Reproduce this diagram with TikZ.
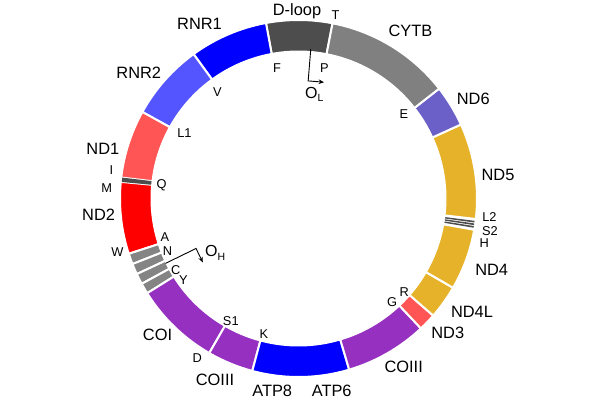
\documentclass[tikz,border=0pt]{standalone}
\usepackage{fontspec}
\setmainfont{Liberation Sans}
\usetikzlibrary{calc,arrows.meta}
\definecolor{dkgray}{RGB}{77,77,77}
\definecolor{midgray}{RGB}{128,128,128}
\definecolor{bandgray}{RGB}{132,132,132}
\definecolor{ndsix}{RGB}{106,96,200}
\definecolor{ndgold}{RGB}{230,178,42}
\definecolor{ndlight}{RGB}{255,85,85}
\definecolor{ndred}{RGB}{255,0,0}
\definecolor{copurple}{RGB}{150,48,192}
\definecolor{atpblue}{RGB}{0,0,255}
\definecolor{rnrlight}{RGB}{85,85,255}
\newcommand{\ringseg}[3]{\fill[#1,draw=white,line width=2pt] (#2:178.5) arc[start angle=#2,end angle=#3,radius=178.5] -- (#3:147) arc[start angle=#3,end angle=#2,radius=147] -- cycle;}
\newcommand{\ringband}[3]{\fill[#1] (#2:177.5) arc[start angle=#2,end angle=#3,radius=177.5] -- (#3:148) arc[start angle=#3,end angle=#2,radius=148] -- cycle;}
\begin{document}
\begin{tikzpicture}[x=1pt,y=1pt,
  lbl/.style={font=\fontsize{16.4}{18}\selectfont, anchor=base, inner sep=0pt},
  sml/.style={font=\fontsize{12.8}{14}\selectfont, anchor=base, inner sep=0pt},
  arr/.style={line width=0.9pt, -{Stealth[length=5.5pt,width=4.5pt]}}]
\useasboundingbox (-298.5,-201.5) rectangle (301.5,198.5);
% ring segments
\ringseg{dkgray}{79}{100.5}
\ringseg{atpblue}{100.5}{126}
\ringseg{rnrlight}{126}{151}
\ringseg{ndlight}{151}{173.25}
\ringseg{ndred}{174.65}{198.05}
\ringseg{bandgray}{198.05}{201.55}
\ringseg{bandgray}{201.55}{205.05}
\ringseg{bandgray}{205.05}{208.55}
\ringseg{bandgray}{208.55}{212.05}
\ringseg{copurple}{212.05}{240}
\ringseg{copurple}{240}{255}
\ringseg{atpblue}{255}{286.5}
\ringseg{copurple}{286.5}{313.3}
\ringseg{ndlight}{313.3}{319}
\ringseg{ndgold}{319}{330}
\ringseg{ndgold}{330}{349.9}
\ringseg{ndgold}{353.4}{384.5}
\ringseg{ndsix}{24.5}{38}
\ringseg{midgray}{38}{79}
% thin tRNA bands
\ringband{dkgray}{173.24}{174.66}
\ringband{dkgray}{-7.77}{-7.23}
\ringband{dkgray}{-8.62}{-8.08}
\ringband{dkgray}{-9.47}{-8.93}
% origin arrows
\coordinate (olA) at (85.3:150);
\coordinate (olB) at (85.3:118);
\coordinate (olC) at ($(olB)+(-4.7:16)$);
\draw[arr] (olA) -- (olB) -- (olC);
\coordinate (ohA) at (206:148);
\coordinate (ohB) at (206:114);
\coordinate (ohC) at ($(ohB)+(296:15.5)$);
\draw[arr] (ohA) -- (ohB) -- (ohC);
% labels (image pixel coordinates)
\begin{scope}[shift={(-298.5,198.5)},yscale=-1]
\node[lbl] (ldloop) at (297,15) {D-loop};
\node[lbl] (lcytb) at (410.5,36.7) {CYTB};
\node[lbl] (lnd6) at (473.3,104) {ND6};
\node[lbl] (lnd5) at (498,180) {ND5};
\node[lbl] (lnd4) at (491.7,275) {ND4};
\node[lbl] (lnd4l) at (472,317.3) {ND4L};
\node[lbl] (lnd3) at (447.8,338.3) {ND3};
\node[lbl] (lcoiiir) at (403.7,372.7) {COIII};
\node[lbl] (latp6) at (331.7,396) {ATP6};
\node[lbl] (latp8) at (272.2,396) {ATP8};
\node[lbl] (lcoiiil) at (215,385) {COIII};
\node[lbl] (lcoi) at (157.5,340) {COI};
\node[lbl] (lnd2) at (98.6,220) {ND2};
\node[lbl] (lnd1) at (102.9,154) {ND1};
\node[lbl] (lrnr2) at (138.8,78.3) {RNR2};
\node[lbl] (lrnr1) at (199.5,29.3) {RNR1};
\node[sml] (lt) at (335.5,19.3) {T};
\node[sml] (lf) at (277,72.7) {F};
\node[sml] (lp) at (324.5,72.7) {P};
\node[sml] (le) at (404,118.3) {E};
\node[sml] (lv) at (217.5,96.7) {V};
\node[sml] (ll1) at (184.5,137.3) {L1};
\node[sml] (li) at (111.3,174) {I};
\node[sml] (lq) at (161.5,188) {Q};
\node[sml] (lm) at (106.7,192.7) {M};
\node[sml] (lw) at (117.5,256.7) {W};
\node[sml] (la) at (165,241.7) {A};
\node[sml] (ln) at (167.5,255) {N};
\node[sml] (lc) at (175.8,274.3) {C};
\node[sml] (ly) at (183.3,284) {Y};
\node[sml] (ls1) at (230.8,325) {S1};
\node[sml] (ld) at (197.2,362.7) {D};
\node[sml] (lk) at (263.8,338.3) {K};
\node[sml] (lg) at (392,306) {G};
\node[sml] (lr) at (404.2,296.7) {R};
\node[sml] (ll2) at (489.5,221) {L2};
\node[sml] (ls2) at (490,235.5) {S2};
\node[sml] (lh) at (484.2,247.5) {H};
\node[lbl, anchor=base west, font=\fontsize{16}{18}\selectfont] (lol) at (305,98.3) {O\raisebox{-3.4pt}{\fontsize{10.5}{12}\selectfont L}};
\node[lbl, anchor=base west, font=\fontsize{16}{18}\selectfont] (loh) at (205,256) {O\raisebox{-4pt}{\fontsize{10.5}{12}\selectfont H}};
\end{scope}
\end{tikzpicture}
\end{document}
